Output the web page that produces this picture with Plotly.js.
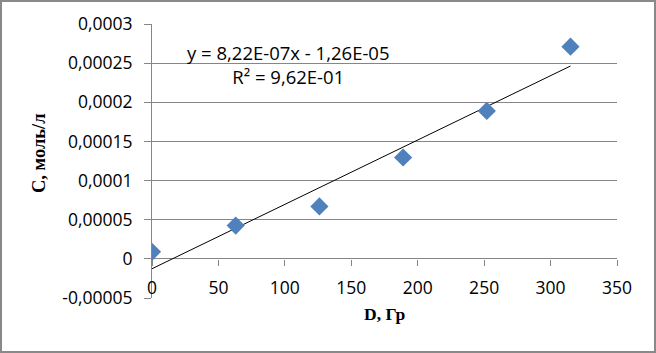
<!DOCTYPE html>
<html>
<head>
<meta charset="utf-8">
<script src="https://cdn.plot.ly/plotly-3.0.1.min.js"></script>
<style>
  html, body { margin: 0; padding: 0; background: #fff; }
  #chart { width: 652px; height: 349px; border: 2px solid #898989; }
</style>
</head>
<body>
<div id="chart"></div>
<script>
// Data
const doseGy = [0, 63, 126, 189, 252, 315];
const concMolL = [0.000009, 0.0000425, 0.000067, 0.0001295, 0.000189, 0.000271];

// Linear trendline as reported on the chart
const trendSlope = 8.22e-7;
const trendIntercept = -1.26e-5;
const trendX = [0, 315];
const trendLabel = ['y = 8,22E-07x - 1,26E-05', 'R² = 9,62E-01'];

// Axis ticks
const xTickVals = [0, 50, 100, 150, 200, 250, 300, 350];
const yTickVals = [-0.00005, 0, 0.00005, 0.0001, 0.00015, 0.0002, 0.00025, 0.0003];
const yTickText = ['-0,00005', '0', '0,00005', '0,0001', '0,00015', '0,0002', '0,00025', '0,0003'];

const xTitle = 'D, Гр';
const yTitle = 'C, моль/л';

const grid = '#868686';
const tickFont = { family: 'Open Sans, Liberation Sans, sans-serif', size: 17.5, color: '#000' };
const eqFont = { family: 'Open Sans, Liberation Sans, sans-serif', size: 18.5, color: '#000' };
const xTitleFont = { family: 'Liberation Serif, Times New Roman, serif', size: 17.5, color: '#000' };
const yTitleFont = { family: 'Liberation Serif, Times New Roman, serif', size: 18.5, color: '#000' };

const traces = [
  {
    x: trendX,
    y: trendX.map(v => trendSlope * v + trendIntercept),
    type: 'scatter', mode: 'lines',
    line: { color: '#000', width: 1 },
    hoverinfo: 'skip'
  },
  {
    x: doseGy, y: concMolL,
    type: 'scatter', mode: 'markers',
    marker: { symbol: 'diamond', size: 14, color: '#4F81BD', line: { width: 0 } }
  }
];

const layout = {
  width: 652, height: 349,
  margin: { l: 150, r: 37, t: 22, b: 53, pad: 0 },
  paper_bgcolor: '#fff', plot_bgcolor: '#fff',
  showlegend: false,
  xaxis: {
    range: [0, 350],
    tickvals: xTickVals,
    ticktext: xTickVals.map(String),
    anchor: 'free', position: 1 / 7,
    showgrid: false, zeroline: false, showline: false,
    ticks: 'outside', ticklen: 6, tickcolor: grid, tickwidth: 1,
    ticklabelstandoff: 7,
    tickfont: tickFont
  },
  yaxis: {
    range: [-0.00005, 0.0003],
    tickvals: yTickVals, ticktext: yTickText,
    showgrid: true, gridcolor: grid, gridwidth: 1,
    zeroline: false,
    showline: true, linecolor: grid, linewidth: 1,
    ticks: 'outside', ticklen: 7, tickcolor: grid, tickwidth: 1,
    ticklabelstandoff: 8,
    tickfont: tickFont
  },
  annotations: [
    {
      xref: 'paper', yref: 'paper', x: 0.294, y: 0.853,
      text: trendLabel.join('<br>'), showarrow: false, align: 'center',
      xanchor: 'center', yanchor: 'middle', font: eqFont
    },
    {
      xref: 'paper', yref: 'paper', x: 0.5, y: -0.06,
      text: '<b>' + xTitle + '</b>', showarrow: false,
      xanchor: 'center', yanchor: 'middle', font: xTitleFont
    },
    {
      xref: 'paper', yref: 'paper', x: -0.243, y: 0.529,
      text: '<b>' + yTitle + '</b>', showarrow: false, textangle: -90,
      xanchor: 'center', yanchor: 'middle', font: yTitleFont
    }
  ]
};

Plotly.newPlot('chart', traces, layout, { displayModeBar: false, staticPlot: true });
</script>
</body>
</html>
